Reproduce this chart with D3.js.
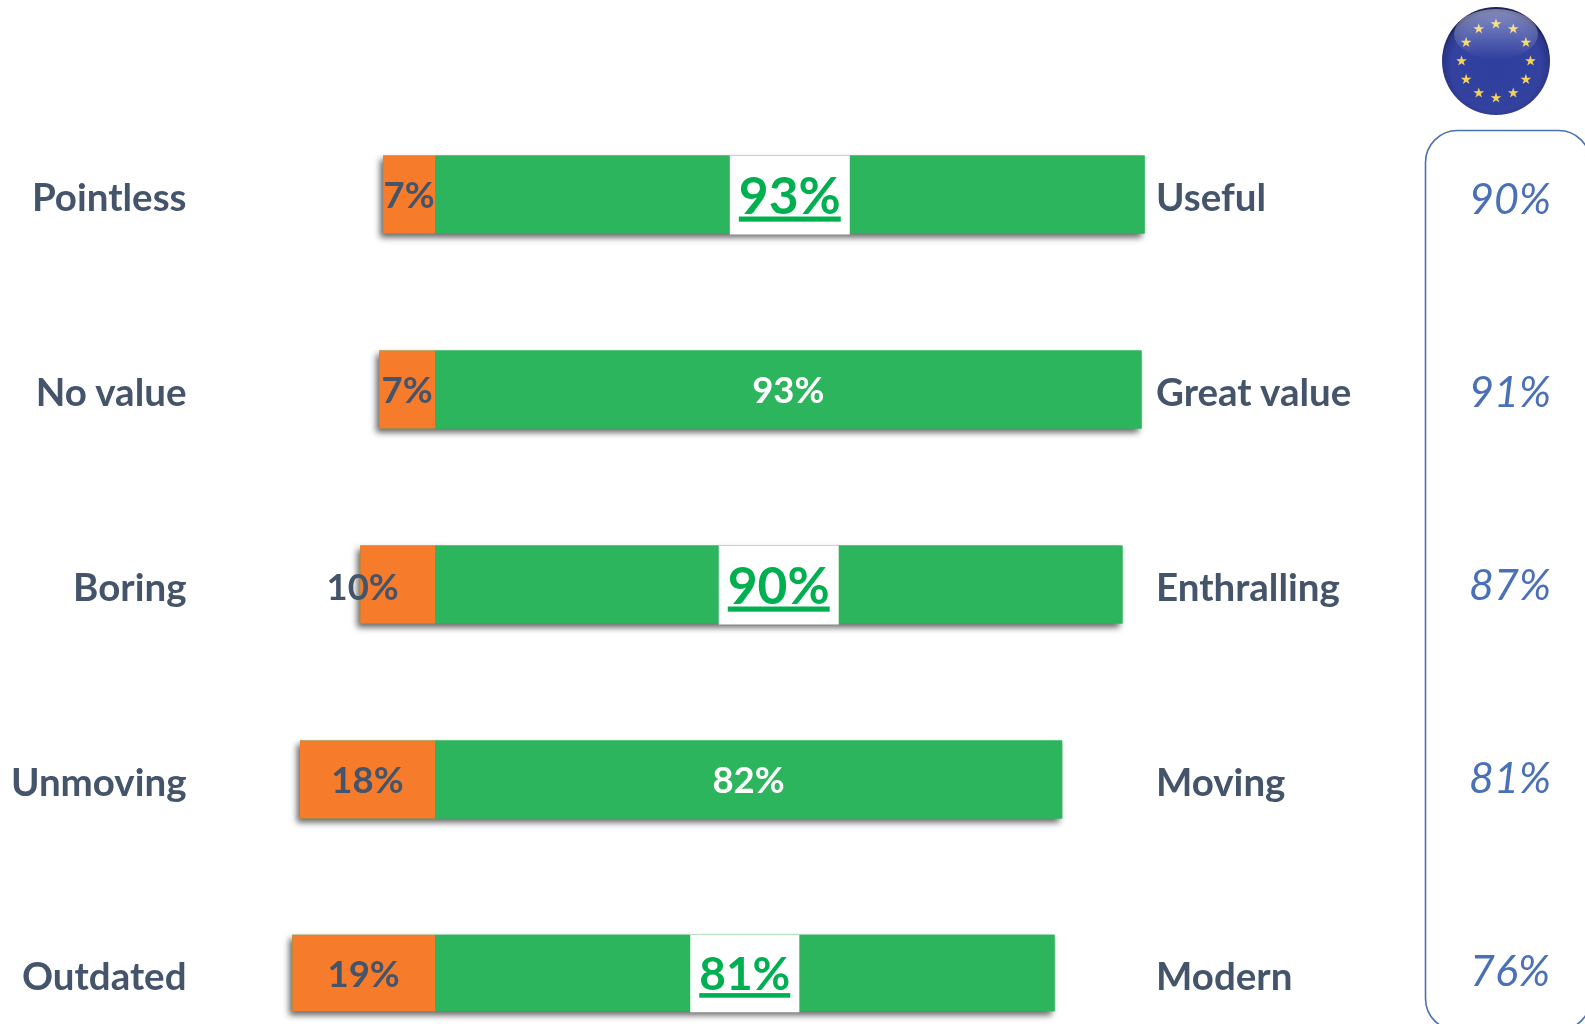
<!DOCTYPE html>
<html><head><meta charset="utf-8">
<script src="https://cdn.jsdelivr.net/npm/d3@7"></script>
<style>html,body{margin:0;padding:0;background:#fff;overflow:hidden}svg{display:block}text{font-family:Lato,sans-serif}</style>
</head><body><svg id="c" width="1585" height="1024"></svg>
<script>
const leftLabels=["Pointless","No value","Boring","Unmoving","Outdated"];
const rightLabels=["Useful","Great value","Enthralling","Moving","Modern"];
const negValues=[6.8,7.3,9.8,17.7,18.7];
const posValues=[93,92.6,90.1,82.2,81.2];
const negText=["7%","7%","10%","18%","19%"];
const posText=["93%","93%","90%","82%","81%"];
const highlighted=[true,false,true,false,true];
const euText=["90%","91%","87%","81%","76%"];
const euStars=d3.range(12);

const svg=d3.select("#c");
const defs=svg.append("defs");
const sh=defs.append("filter").attr("id","sh").attr("x","-5%").attr("y","-20%").attr("width","110%").attr("height","140%").attr("color-interpolation-filters","sRGB");
sh.append("feDropShadow").attr("dx",-3).attr("dy",4).attr("stdDeviation",3).attr("flood-color","#000").attr("flood-opacity",.6);
const soft=defs.append("filter").attr("id","soft").attr("filterUnits","userSpaceOnUse").attr("x",0).attr("y",0).attr("width",1585).attr("height",1024).attr("color-interpolation-filters","sRGB");
soft.append("feGaussianBlur").attr("stdDeviation",.45);
const grad=defs.append("radialGradient").attr("id","globe").attr("cx","50%").attr("cy","55%").attr("r","52%");
grad.append("stop").attr("offset","0%").attr("stop-color","#2f3f9e");
grad.append("stop").attr("offset","80%").attr("stop-color","#33429f");
grad.append("stop").attr("offset","96%").attr("stop-color","#2a3585");
grad.append("stop").attr("offset","100%").attr("stop-color","#1c2460");
const gloss=defs.append("linearGradient").attr("id","gloss").attr("x1",0).attr("y1",0).attr("x2",0).attr("y2",1);
gloss.append("stop").attr("offset","0%").attr("stop-color","#fff").attr("stop-opacity",.42);
gloss.append("stop").attr("offset","100%").attr("stop-color","#fff").attr("stop-opacity",0);

const root=svg.append("g").attr("filter","url(#soft)");
const x=d3.scaleLinear().domain([0,100]).range([435,1198]);
const y=d3.scaleLinear().domain([0,3,4]).range([194.5,779.5,973]);
const yEu=d3.scalePoint().domain(d3.range(5)).range([198.5,970.5]);
const barH=i=>i===4?76.5:78;
const wordSize=38.5,valueSize=36.5,hiSize=i=>i===4?46:51.5;
const rows=root.append("g").selectAll("g").data(d3.range(5)).join("g");

rows.append("rect").attr("x",i=>x(-negValues[i])).attr("y",i=>y(i)-barH(i)/2).attr("width",i=>x(posValues[i])-x(-negValues[i])).attr("height",barH).attr("fill","#2db55d").attr("filter","url(#sh)");
rows.append("rect").attr("x",i=>x(-negValues[i])).attr("y",i=>y(i)-barH(i)/2).attr("width",i=>x(0)-x(-negValues[i])).attr("height",barH).attr("fill","#f67c2b");
rows.append("rect").attr("x",x(0)).attr("y",i=>y(i)-barH(i)/2).attr("width",i=>x(posValues[i])-x(0)).attr("height",barH).attr("fill","#2db55d");

// left and right word labels
const labelY=i=>y(i)+(i===4?4:3);
rows.append("text").attr("x",186.5).attr("y",labelY).attr("dy",".35em").attr("text-anchor","end").attr("font-size",wordSize).attr("font-weight",700).attr("fill","#44546a").text(i=>leftLabels[i]);
rows.append("text").attr("x",1156).attr("y",labelY).attr("dy",".35em").attr("font-size",wordSize).attr("font-weight",700).attr("fill","#44546a").text(i=>rightLabels[i]);

// negative value labels (the 10% label spills out of its short segment)
rows.append("text").attr("x",i=>(x(-negValues[i])+x(0))/2-(negText[i]==="10%"?35:0)).attr("y",i=>y(i)+(negText[i]==="10%"?3:1)).attr("dy",".35em").attr("text-anchor","middle").attr("font-size",valueSize).attr("font-weight",700).attr("fill","#44546a").text(i=>negText[i]);

// positive value labels, highlighted ones sit on a white box
rows.each(function(i){
  const g=d3.select(this),cx=(x(0)+x(posValues[i]))/2,hi=highlighted[i];
  const box=hi?g.append("rect"):null;
  const t=g.append("text").attr("x",cx).attr("y",y(i)+1).attr("dy",".35em").attr("text-anchor","middle")
    .attr("font-size",hi?hiSize(i):valueSize).attr("font-weight",700).attr("fill",hi?"#00b050":"#fff").text(posText[i]);
  if(hi){
    t.style("text-decoration","underline");
    const w=t.node().getComputedTextLength()+18;
    box.attr("x",cx-w/2).attr("y",y(i)-barH(i)/2).attr("width",w).attr("height",barH(i)+1).attr("fill","#fff");
  }
});

// EU column
root.append("rect").attr("x",1425.5).attr("y",130.5).attr("width",165).attr("height",900).attr("rx",32).attr("fill","none").attr("stroke","#4a70b8").attr("stroke-width",1.6);
root.append("g").selectAll("text").data(d3.range(5)).join("text").attr("x",1510).attr("y",i=>yEu(i)).attr("dy",".35em").attr("text-anchor","middle").attr("font-size",43).attr("font-style","italic").attr("fill","#4a70b8").text(i=>euText[i]);

const eu=root.append("g").attr("transform","translate(1496,61)");
eu.append("circle").attr("r",54).attr("fill","url(#globe)");
const star=d3.symbol().type(d3.symbolStar).size(36);
eu.selectAll("path.s").data(euStars).join("path").attr("class","s").attr("d",star)
  .attr("transform",k=>`translate(${34.5*Math.sin(k*Math.PI/6)},${-37*Math.cos(k*Math.PI/6)})`).attr("fill","#f3d35a");
eu.append("ellipse").attr("cy",-27).attr("rx",42).attr("ry",25).attr("fill","url(#gloss)");
</script></body></html>
